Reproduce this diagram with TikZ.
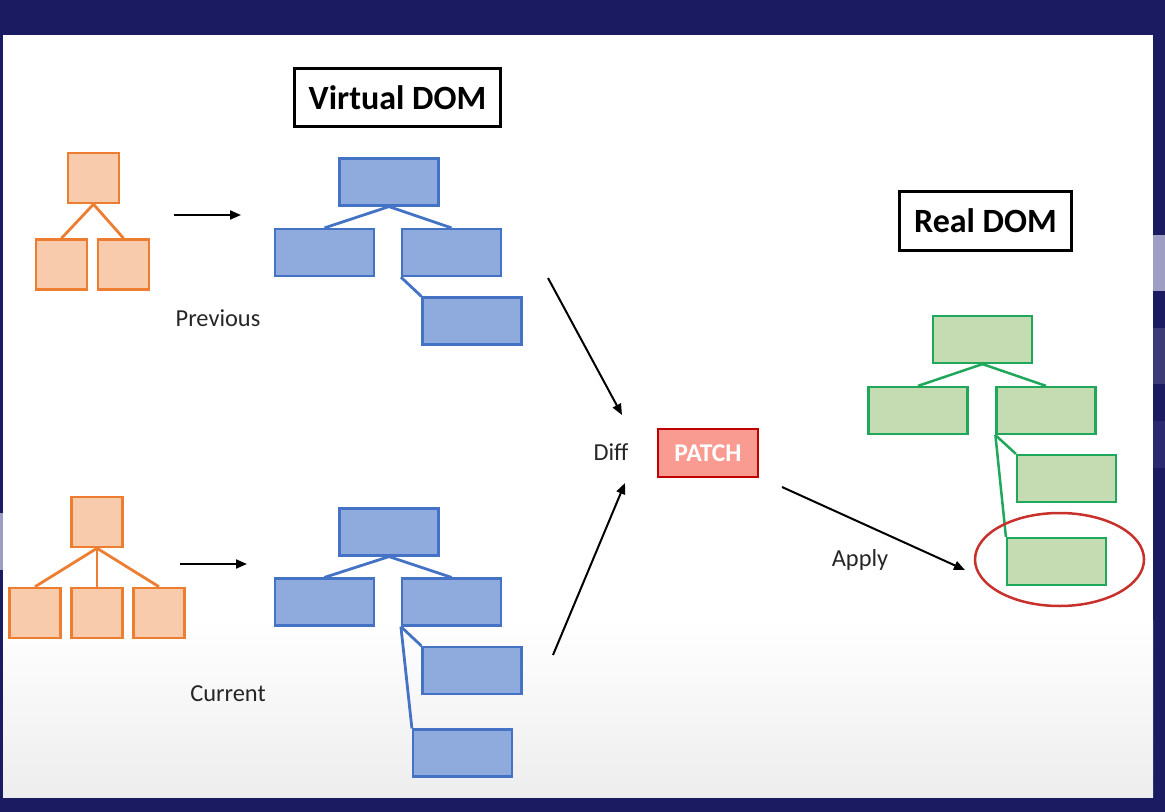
\documentclass[tikz,border=0pt]{standalone}
\usepackage{fontspec}
\setmainfont{Carlito}
\usetikzlibrary{arrows.meta,shapes.geometric}

\definecolor{navy}{HTML}{1B1B62}
\definecolor{stripea}{HTML}{9E9EC4}
\definecolor{stripeb}{HTML}{3D3A78}
\definecolor{stripec}{HTML}{2B2A70}
\definecolor{orfill}{HTML}{F8CBAD}
\definecolor{orline}{HTML}{ED7D31}
\definecolor{vfill}{HTML}{8FAADC}
\definecolor{vline}{HTML}{4472C4}
\definecolor{rfill}{HTML}{C5DCB3}
\definecolor{rline}{HTML}{1FA85C}
\definecolor{pfill}{HTML}{FA9B92}
\definecolor{pline}{HTML}{C00000}
\definecolor{hlred}{HTML}{C8302C}
\definecolor{txt}{HTML}{262626}

\tikzset{
  orbox/.style={draw=orline, fill=orfill, line width=1.25pt, minimum width=25.5pt, minimum height=25pt, inner sep=0pt},
  vbox/.style={draw=vline, fill=vfill, line width=1.1pt, minimum width=49.5pt, minimum height=23.5pt, inner sep=0pt},
  rbox/.style={draw=rline, fill=rfill, line width=1.1pt, minimum width=49.5pt, minimum height=23.5pt, inner sep=0pt},
  ortree/.style={draw=orline, line width=1.4pt},
  vtree/.style={draw=vline, line width=1.4pt},
  rtree/.style={draw=rline, line width=1.25pt},
  title/.style={draw=black, line width=1.5pt, fill=white, inner sep=0pt, font=\fontsize{17}{20}\selectfont\bfseries},
  lbl/.style={text=txt, inner sep=0pt, font=\fontsize{12.2}{14}\selectfont},
  flow/.style={black, line width=1pt, -{Triangle[length=5.5pt,width=4.5pt]}}
}

\begin{document}
\begin{tikzpicture}[x=0.5pt,y=-0.5pt]
% frame and slide
\fill[navy] (0,0) rectangle (1165,812);
\fill[stripea] (1153,235) rectangle (1165,291);
\fill[stripeb] (1153,328) rectangle (1165,384);
\fill[stripec] (1153,421) rectangle (1165,468);
\fill[stripea] (0,513) rectangle (3,570);
\fill[white] (3,35) rectangle (1153,797);
\shade[top color=white, bottom color=black!7] (3,620) rectangle (1153,797);

% titles
\node[title, minimum width=103pt, minimum height=29pt] (vdom) at (397.5,97.5) {Virtual DOM};
\node[title, minimum width=86pt, minimum height=29.5pt] (rdom) at (985.5,221) {Real DOM};

% previous tree (orange)
\node[orbox] (op) at (93.5,178) {};
\node[orbox] (opl) at (61.5,264.5) {};
\node[orbox] (opr) at (123.5,264.5) {};
\draw[ortree] (op.south) -- (opl.north);
\draw[ortree] (op.south) -- (opr.north);

% current tree (orange)
\node[orbox] (oc) at (97,522) {};
\node[orbox] (ocl) at (35,613) {};
\node[orbox] (ocm) at (97,613) {};
\node[orbox] (ocr) at (159,613) {};
\draw[ortree] (oc.south) -- (ocl.north);
\draw[ortree] (oc.south) -- (ocm.north);
\draw[ortree] (oc.south) -- (ocr.north);

% previous virtual DOM
\node[vbox] (vp) at (389,182) {};
\node[vbox] (vpl) at (324.5,252.5) {};
\node[vbox] (vpr) at (451.5,252.5) {};
\node[vbox] (vprg) at (472,321) {};
\draw[vtree] (vp.south) -- (vpl.north);
\draw[vtree] (vp.south) -- (vpr.north);
\draw[vtree] (vpr.south west) -- (vprg.north west);

% current virtual DOM
\node[vbox] (vc) at (389,532) {};
\node[vbox] (vcl) at (324.5,602) {};
\node[vbox] (vcr) at (451.5,602) {};
\node[vbox] (vcra) at (472,670.5) {};
\node[vbox] (vcrb) at (462.5,753) {};
\draw[vtree] (vc.south) -- (vcl.north);
\draw[vtree] (vc.south) -- (vcr.north);
\draw[vtree] (vcr.south west) -- (vcra.north west);
\draw[vtree] (vcr.south west) -- (vcrb.north west);

% real DOM (green)
\node[rbox] (rr) at (982.5,339.5) {};
\node[rbox] (rrl) at (918,410.5) {};
\node[rbox] (rrr) at (1046,410.5) {};
\node[rbox] (rrra) at (1066.5,478.5) {};
\node[rbox] (rrrb) at (1056.5,561.5) {};
\draw[rtree] (rr.south) -- (rrl.north);
\draw[rtree] (rr.south) -- (rrr.north);
\draw[rtree] (rrr.south west) -- (rrra.north west);
\draw[rtree] (rrr.south west) -- (rrrb.north west);
\node[draw=hlred, line width=1.25pt, ellipse, minimum width=84.5pt, minimum height=46.5pt, inner sep=0pt] (hl) at (1059.5,559.5) {};

% patch
\node[draw=pline, fill=pfill, line width=1pt, minimum width=50pt, minimum height=24pt, inner sep=0pt,
  text=white, font=\fontsize{12.8}{15}\selectfont\bfseries] (patch) at (708,453) {PATCH};

% labels
\node[lbl] (prev) at (218,318) {Previous};
\node[lbl] (curr) at (228,694) {Current};
\node[lbl] (diff) at (611,452) {Diff};
\node[lbl] (apply) at (860,560) {Apply};

% arrows
\coordinate (pa) at (174,215);
\coordinate (pb) at (241,215);
\coordinate (ca) at (180,564);
\coordinate (cb) at (247,564);
\coordinate (da) at (548,278);
\coordinate (db) at (622,415);
\coordinate (ea) at (553,655);
\coordinate (eb) at (625,483);
\coordinate (aa) at (782,487);
\coordinate (ab) at (965,570);
\draw[flow] (pa) -- (pb);
\draw[flow] (ca) -- (cb);
\draw[flow] (da) -- (db);
\draw[flow] (ea) -- (eb);
\draw[flow] (aa) -- (ab);
\end{tikzpicture}
\end{document}
